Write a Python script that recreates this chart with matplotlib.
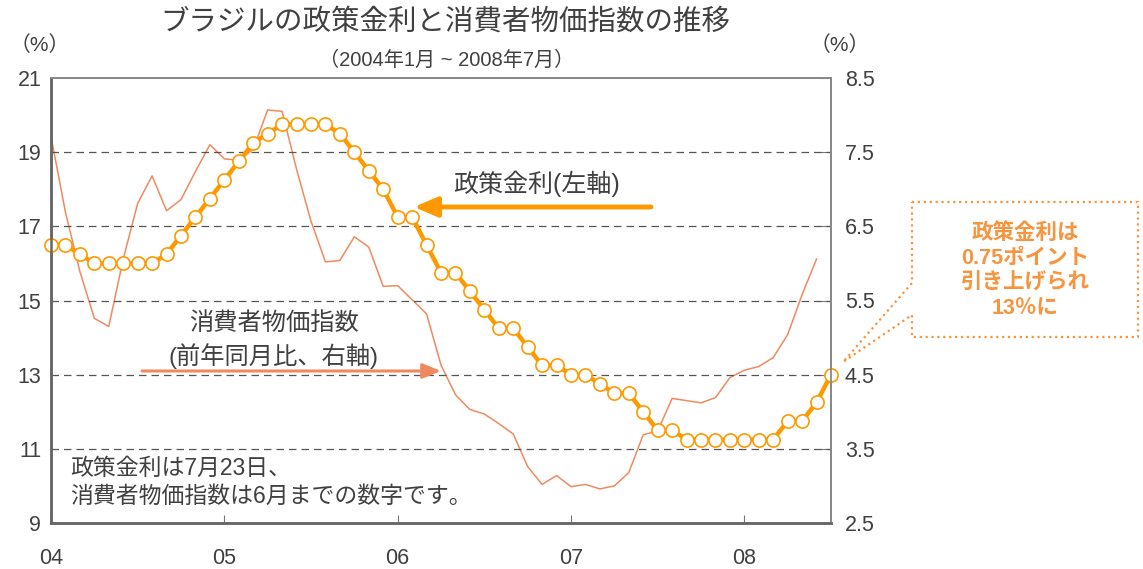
import matplotlib.pyplot as plt
from matplotlib.patches import Polygon

plt.rcParams['font.family'] = ['Liberation Sans', 'Noto Sans CJK JP']

W, H = 1143, 569


def fx(px):
    return px / W


def fy(py):
    return 1 - py / H


# monthly, Jan 2004 - Jul 2008
policy_rate = [16.5, 16.5, 16.25, 16.0, 16.0, 16.0, 16.0, 16.0, 16.25, 16.75, 17.25, 17.75,
               18.25, 18.75, 19.25, 19.5, 19.75, 19.75, 19.75, 19.75, 19.5, 19.0, 18.5, 18.0,
               17.25, 17.25, 16.5, 15.75, 15.75, 15.25, 14.75, 14.25, 14.25, 13.75, 13.25, 13.25,
               13.0, 13.0, 12.75, 12.5, 12.5, 12.0, 11.5, 11.5, 11.25, 11.25, 11.25, 11.25,
               11.25, 11.25, 11.25, 11.75, 11.75, 12.25, 13.0]
# monthly, Jan 2004 - Jun 2008
cpi_yoy = [7.71, 6.69, 5.89, 5.26, 5.15, 6.06, 6.81, 7.18, 6.71, 6.86, 7.24, 7.60,
           7.41, 7.39, 7.54, 8.07, 8.05, 7.27, 6.57, 6.02, 6.04, 6.36, 6.22, 5.69,
           5.70, 5.51, 5.32, 4.63, 4.23, 4.03, 3.97, 3.84, 3.70, 3.26, 3.02, 3.14,
           2.99, 3.02, 2.96, 3.00, 3.18, 3.69, 3.74, 4.18, 4.15, 4.12, 4.19, 4.46,
           4.56, 4.61, 4.73, 5.04, 5.58, 6.06]
year_labels = ["04", "05", "06", "07", "08"]
left_ticks = [9, 11, 13, 15, 17, 19, 21]
right_ticks = [2.5, 3.5, 4.5, 5.5, 6.5, 7.5, 8.5]

rate_color = "#FF9900"
cpi_color = "#F08A5E"
note_color = "#F7943E"
text_color = "#404040"

fig = plt.figure(figsize=(11.43, 5.69), dpi=100)
ax = fig.add_axes([fx(51), fy(523), fx(831) - fx(51), fy(78) - fy(523)])
ax2 = ax.twinx()
ax.set_zorder(ax2.get_zorder() + 1)
ax.patch.set_visible(False)

ax2.plot(range(len(cpi_yoy)), cpi_yoy, color=cpi_color, lw=1.1)
ax.plot(range(len(policy_rate)), policy_rate, color=rate_color, lw=3.2,
        marker="o", ms=9.5, mfc="white", mec=rate_color, mew=1.2, clip_on=False)

for v in left_ticks[1:-1]:
    ax.axhline(v, color="#555555", lw=0.9, ls=(0, (6, 4)), zorder=0)

ax.set_xlim(0, 54)
ax.set_ylim(9, 21)
ax2.set_ylim(2.5, 8.5)
ax.set_yticks(left_ticks)
ax2.set_yticks(right_ticks)
ax.set_xticks(range(0, 49, 12))
ax.set_xticklabels(year_labels)

ax.tick_params(axis="y", length=0, labelsize=15.5, labelcolor=text_color, pad=7)
ax.tick_params(axis="x", direction="in", length=6, color="#777777", labelsize=15.5,
               labelcolor=text_color, pad=18)
ax2.tick_params(axis="y", direction="in", length=8, color="#777777", labelsize=15.5,
                labelcolor=text_color, pad=10)

for a in (ax, ax2):
    a.spines["left"].set_color("#666666")
    a.spines["bottom"].set_color("#666666")
    a.spines["left"].set_linewidth(1.8)
    a.spines["bottom"].set_linewidth(1.8)
    a.spines["top"].set_color("#888888")
    a.spines["right"].set_color("#888888")
    a.spines["top"].set_linewidth(1.3)
    a.spines["right"].set_linewidth(1.3)

fig.text(fx(445), fy(22), "ブラジルの政策金利と消費者物価指数の推移", ha="center", va="center",
         fontsize=20.5, color=text_color)
fig.text(fx(447), fy(60), "（2004年1月 ~ 2008年7月）", ha="center", va="center",
         fontsize=14.5, color=text_color)
fig.text(fx(40), fy(45), "（%）", ha="center", va="center", fontsize=15, color=text_color)
fig.text(fx(840), fy(45), "（%）", ha="center", va="center", fontsize=15, color=text_color)

fig.text(fx(537), fy(184), "政策金利(左軸)", ha="center", va="center", fontsize=18, color=text_color)
ax.annotate("", xy=(fx(414), fy(207)), xytext=(fx(651), fy(207)),
            xycoords=fig.transFigure, textcoords=fig.transFigure,
            arrowprops=dict(arrowstyle="-|>,head_length=1.4,head_width=0.6", color=rate_color,
                            lw=3.5, shrinkA=0, shrinkB=0))

fig.text(fx(274), fy(324), "消費者物価指数", ha="center", va="center", fontsize=17.5, color=text_color)
fig.text(fx(274), fy(356), "(前年同月比、右軸)", ha="center", va="center", fontsize=17.5,
         color=text_color)
ax.annotate("", xy=(fx(441), fy(371)), xytext=(fx(142), fy(371)),
            xycoords=fig.transFigure, textcoords=fig.transFigure,
            arrowprops=dict(arrowstyle="-|>,head_length=1.1,head_width=0.45", color=cpi_color,
                            lw=2.2, shrinkA=0, shrinkB=0))

fig.text(fx(70), fy(468), "政策金利は7月23日、", ha="left", va="center", fontsize=16.5,
         color=text_color)
fig.text(fx(70), fy(496), "消費者物価指数は6月までの数字です。", ha="left", va="center",
         fontsize=16.5, color=text_color)

bubble = [(912, 202), (1138, 202), (1138, 337), (912, 337), (912, 315), (843, 362), (912, 283)]
fig.patches.append(Polygon([(fx(x), fy(y)) for x, y in bubble], closed=True, fill=False,
                           ls=":", lw=1.6, ec=note_color, transform=fig.transFigure))
fig.text(fx(1025), fy(271), "政策金利は\n0.75ポイント\n引き上げられ\n13％に", ha="center",
         va="center", fontsize=15.5, fontweight="bold", color=note_color, linespacing=1.25)

fig.savefig("out.png", dpi=100)
